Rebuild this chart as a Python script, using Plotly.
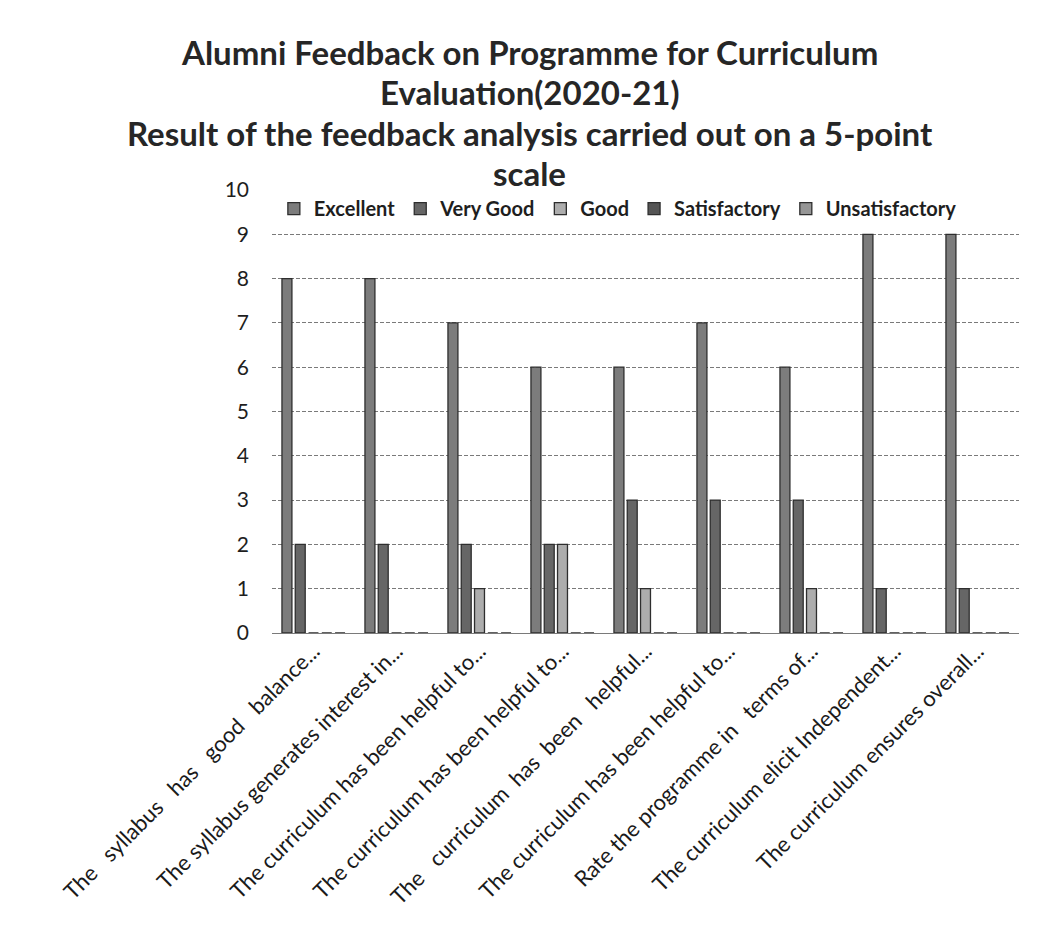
import plotly.graph_objects as go

NB = "\u00a0"
categories = [
    "The" + NB*3 + "syllabus" + NB*3 + "has" + NB*3 + "good" + NB*3 + "balance...",
    "The syllabus generates interest in...",
    "The curriculum has been helpful to...",
    "The curriculum has been helpful to...",
    "The" + NB*3 + "curriculum" + NB*2 + "has" + NB*2 + "been" + NB*3 + "helpful...",
    "The curriculum has been helpful to...",
    "Rate the programme in" + NB*3 + "terms of...",
    "The curriculum elicit Independent...",
    "The curriculum ensures overall...",
]
series_names = ["Excellent", "Very Good", "Good", "Satisfactory", "Unsatisfactory"]
excellent = [8, 8, 7, 6, 6, 7, 6, 9, 9]
very_good = [2, 2, 2, 2, 3, 3, 3, 1, 1]
good = [0, 0, 1, 2, 1, 0, 1, 0, 0]
satisfactory = [0, 0, 0, 0, 0, 0, 0, 0, 0]
unsatisfactory = [0, 0, 0, 0, 0, 0, 0, 0, 0]
y_ticks = [0, 1, 2, 3, 4, 5, 6, 7, 8, 9, 10]
title_lines = [
    "Alumni Feedback on Programme for Curriculum",
    "Evaluation(2020-21)",
    "Result of the feedback analysis carried out on a 5-point",
    "scale",
]

fills = ["#7c7c7c", "#666666", "#adadad", "#555555", "#969696"]
values = [excellent, very_good, good, satisfactory, unsatisfactory]

fig = go.Figure()
for name, vals, col in zip(series_names, values, fills):
    fig.add_trace(go.Bar(
        x=list(range(len(categories))), y=vals, name=name,
        marker=dict(color=col, line=dict(color="#2e2e2e", width=1.3)),
    ))

font_main = "Lato, Carlito, Calibri, sans-serif"

# title lines as annotations
title_y = [1.3115, 1.2212, 1.1287, 1.039]
for txt, yy in zip(title_lines, title_y):
    fig.add_annotation(
        text=txt, xref="paper", yref="paper", x=0.345, y=yy,
        xanchor="center", yanchor="middle", showarrow=False,
        font=dict(family=font_main, size=33, color="#262626", weight="bold"),
    )

fig.update_layout(
    width=1043, height=943,
    paper_bgcolor="white", plot_bgcolor="white",
    margin=dict(l=264, r=32, t=182, b=318),
    barmode="group", bargap=0.2, bargroupgap=0.25,
    showlegend=True,
    legend=dict(
        orientation="h", x=0.463, y=0.958, xanchor="center", yanchor="middle",
        bgcolor="rgba(0,0,0,0)",
        font=dict(family=font_main, size=20, color="#1e1e1e", weight="bold"),
        itemwidth=30, tracegroupgap=0,
    ),
    xaxis=dict(
        tickmode="array", tickvals=list(range(len(categories))), ticktext=categories,
        tickangle=-45, showgrid=False, zeroline=False, showline=False, ticks="",
        range=[-0.5, len(categories) - 0.5],
        tickfont=dict(family=font_main, size=22, color="#1a1a1a"),
    ),
    yaxis=dict(
        range=[0, 10], tickmode="array", tickvals=y_ticks,
        showgrid=True, gridcolor="#7a7a7a", gridwidth=1, griddash="4px,2px",
        zeroline=True, zerolinecolor="#7a7a7a", zerolinewidth=1,
        showline=False, ticks="", ticklabelstandoff=22,
        tickfont=dict(family=font_main, size=21, color="#1e1e1e"),
    ),
)

fig.write_html("out.html")
